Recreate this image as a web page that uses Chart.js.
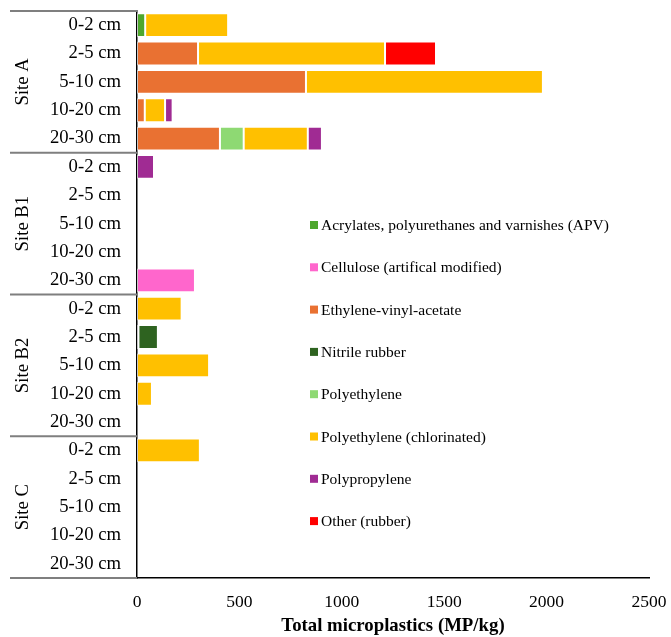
<!DOCTYPE html>
<html>
<head>
<meta charset="utf-8">
<title>Total microplastics by site and depth</title>
<script src="https://cdn.jsdelivr.net/npm/chart.js@4.4.1/dist/chart.umd.min.js"></script>
<style>
  html, body { margin: 0; padding: 0; background: #fff; }
  #wrap { width: 671px; height: 637px; position: relative; }
</style>
</head>
<body>
<div id="wrap"><canvas id="myChart"></canvas></div>
<script>
// sampling sites and depth layers (one bar per site/depth)
var sites = ['Site A', 'Site B1', 'Site B2', 'Site C'];
var depths = ['0-2 cm', '2-5 cm', '5-10 cm', '10-20 cm', '20-30 cm'];

// MP/kg per polymer type, 5 depths per site in order A, B1, B2, C
var apv       = [40, 0, 0, 0, 0,    0, 0, 0, 0, 0,    0, 0, 0, 0, 0,    0, 0, 0, 0, 0];
var cellulose = [0, 0, 0, 0, 0,     0, 0, 0, 0, 283,  0, 0, 0, 0, 0,    0, 0, 0, 0, 0];
var eva       = [0, 298, 825, 38, 405,  0, 0, 0, 0, 0,  0, 7, 0, 0, 0,  0, 0, 0, 0, 0];
var nitrile   = [0, 0, 0, 0, 0,     0, 0, 0, 0, 0,    0, 95, 0, 0, 0,   0, 0, 0, 0, 0];
var pe        = [0, 0, 0, 0, 116,   0, 0, 0, 0, 0,    0, 0, 0, 0, 0,    0, 0, 0, 0, 0];
var pec       = [405, 913, 1157, 99, 313,  0, 0, 0, 0, 0,  218, 0, 352, 73, 0,  307, 0, 0, 0, 0];
var pp        = [0, 0, 0, 37, 69,   83, 0, 0, 0, 0,   0, 0, 0, 0, 0,    0, 0, 0, 0, 0];
var other     = [0, 249, 0, 0, 0,   0, 0, 0, 0, 0,    0, 0, 0, 0, 0,    0, 0, 0, 0, 0];

var xTicks = [0, 500, 1000, 1500, 2000, 2500];

var labels = [];
sites.forEach(function(s) {
  depths.forEach(function(d) { labels.push(d); });
});

var serif = '"Liberation Serif", "Times New Roman", serif';

function series(name, values, color) {
  return {
    label: name,
    data: values,
    backgroundColor: color,
    borderColor: 'rgba(255,255,255,0.55)',
    borderWidth: 1,
    borderSkipped: false,
    barPercentage: 1,
    categoryPercentage: 0.84
  };
}

// keep tick labels from pushing the plot area around
function noOverhang(scale) {
  scale.paddingTop = 0;
  scale.paddingBottom = 0;
  scale.paddingLeft = 0;
  scale.paddingRight = 0;
}

// site names + grey separators to the left of the y axis
var siteGroups = {
  id: 'siteGroups',
  afterDraw: function(chart) {
    var c = chart.ctx, y = chart.scales.y, area = chart.chartArea;
    var n = depths.length;
    c.save();
    c.strokeStyle = '#7f7f7f';
    c.lineWidth = 2;
    for (var g = 0; g <= sites.length; g++) {
      var py;
      if (g === 0) py = area.top;
      else if (g === sites.length) py = area.bottom;
      else py = (y.getPixelForValue(g * n - 1) + y.getPixelForValue(g * n)) / 2;
      c.beginPath();
      c.moveTo(10, py);
      c.lineTo(area.left, py);
      c.stroke();
    }
    c.fillStyle = '#000';
    c.font = '18.7px ' + serif;
    c.textAlign = 'center';
    c.textBaseline = 'middle';
    sites.forEach(function(s, g) {
      var mid = (y.getPixelForValue(g * n) + y.getPixelForValue(g * n + n - 1)) / 2;
      c.save();
      c.translate(23, mid);
      c.rotate(-Math.PI / 2);
      c.fillText(s, 0, 0);
      c.restore();
    });
    c.restore();
  }
};

// vertical legend sitting inside the plot on the right
var sideLegend = {
  id: 'sideLegend',
  afterDraw: function(chart) {
    var c = chart.ctx;
    c.save();
    c.font = '15.5px ' + serif;
    c.textBaseline = 'middle';
    c.textAlign = 'left';
    chart.data.datasets.forEach(function(ds, i) {
      var cy = 225 + i * 42.3;
      c.fillStyle = ds.backgroundColor;
      c.fillRect(310, cy - 4, 8, 8);
      c.fillStyle = '#000';
      c.fillText(ds.label, 321, cy + 1);
    });
    c.restore();
  }
};

var ctx = document.getElementById('myChart').getContext('2d');
var chart = new Chart(ctx, {
  type: 'bar',
  data: {
    labels: labels,
    datasets: [
      series('Acrylates, polyurethanes and varnishes (APV)', apv, '#4ea72e'),
      series('Cellulose (artifical modified)', cellulose, '#ff66cc'),
      series('Ethylene-vinyl-acetate', eva, '#e97132'),
      series('Nitrile rubber', nitrile, '#2e6320'),
      series('Polyethylene', pe, '#8ed973'),
      series('Polyethylene (chlorinated)', pec, '#ffc000'),
      series('Polypropylene', pp, '#a02b93'),
      series('Other (rubber)', other, '#ff0000')
    ]
  },
  options: {
    indexAxis: 'y',
    responsive: true,
    maintainAspectRatio: false,
    animation: false,
    layout: { padding: { left: 10, top: 11, right: 22, bottom: 0 } },
    plugins: {
      legend: { display: false },
      tooltip: { enabled: false }
    },
    scales: {
      x: {
        stacked: true,
        min: 0,
        max: 2500,
        afterBuildTicks: function(scale) {
          scale.ticks = xTicks.map(function(v) { return { value: v }; });
        },
        afterFit: function(scale) { scale.height = 59; noOverhang(scale); },
        grid: { display: false, drawTicks: false, tickLength: 0 },
        border: { display: true, color: '#000', width: 1.5 },
        ticks: {
          color: '#000',
          padding: 14,
          maxRotation: 0,
          callback: function(v) { return String(v); },
          font: { family: serif, size: 17.5 }
        },
        title: {
          display: true,
          text: 'Total microplastics (MP/kg)',
          color: '#000',
          padding: { top: 0, bottom: 0 },
          font: { family: serif, size: 18.8, weight: 'bold' }
        }
      },
      y: {
        stacked: true,
        afterFit: function(scale) { scale.width = 127; noOverhang(scale); },
        grid: { display: false, drawTicks: false, tickLength: 0 },
        border: { display: true, color: '#000', width: 1.5 },
        ticks: {
          color: '#000',
          padding: 16,
          autoSkip: false,
          font: { family: serif, size: 18.7 }
        }
      }
    }
  },
  plugins: [siteGroups, sideLegend]
});
</script>
</body>
</html>
